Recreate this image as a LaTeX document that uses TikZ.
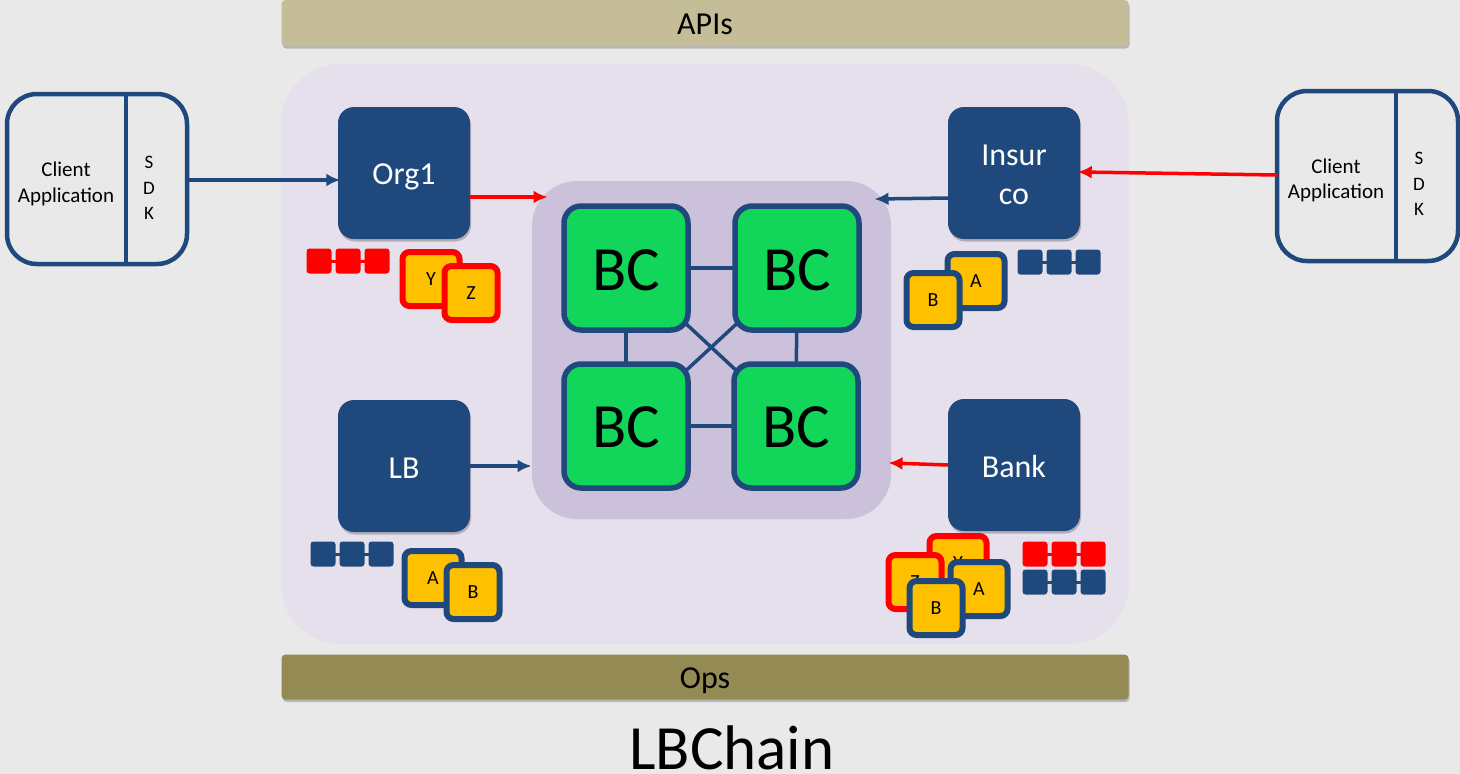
\documentclass[tikz,border=0pt]{standalone}
\usepackage{fontspec}
\setmainfont{Carlito}
\usetikzlibrary{arrows.meta,shadows,backgrounds}
\definecolor{bluedark}{HTML}{1F497D}
\definecolor{redbright}{HTML}{FF0000}
\definecolor{greenbc}{HTML}{12D65A}
\definecolor{goldcard}{HTML}{FFC000}
\definecolor{pagegray}{HTML}{E9E9EA}
\definecolor{lilacpanel}{HTML}{E5E0EC}
\definecolor{lilaccore}{HTML}{CCC1DA}
\definecolor{apisbar}{HTML}{C4BD97}
\definecolor{opsbar}{HTML}{948A54}
\tikzset{x=1pt,y=-1pt,
  softshadow/.style={drop shadow={shadow xshift=1pt,shadow yshift=-2.5pt,fill=black,opacity=.22}},
  org/.style={softshadow,fill=bluedark,text=white,rounded corners=16pt,minimum width=132pt,minimum height=132pt,font=\fontsize{32}{39}\selectfont,align=center,inner sep=0pt},
  orglabel/.style={text=white,font=\fontsize{32}{39}\selectfont,align=center,inner sep=0pt},
  bc/.style={draw=bluedark,fill=greenbc,line width=5.5pt,rounded corners=17pt,minimum width=124pt,minimum height=124pt,font=\fontsize{63}{63}\selectfont,inner sep=0pt},
  bluecard/.style={softshadow,draw=bluedark,fill=goldcard,line width=6pt,rounded corners=7pt,minimum width=53pt,minimum height=54pt,font=\fontsize{20}{20}\selectfont,inner sep=0pt},
  redcard/.style={bluecard,draw=redbright},
  widecard/.style={minimum width=57pt},
  bluechip/.style={fill=bluedark,rounded corners=3pt,minimum width=25pt,minimum height=25pt,inner sep=0pt},
  redchip/.style={bluechip,fill=redbright},
  barnode/.style={softshadow,rounded corners=4pt,minimum width=847pt,font=\fontsize{32}{34}\selectfont},
  clientbox/.style={draw=bluedark,line width=4.5pt,rounded corners=30pt,fill=none},
  clienttext/.style={font=\fontsize{21}{25.5}\selectfont,align=center},
  sdktext/.style={font=\fontsize{19}{25.5}\selectfont,align=center},
  bluelink/.style={bluedark,line width=3.5pt},
  bluearrow/.style={bluedark,line width=3.5pt,shorten >=-2.5pt,-{Latex[length=14pt,width=13pt]}},
  redarrow/.style={redbright,line width=3.5pt,shorten >=-2.5pt,-{Latex[length=14pt,width=13pt]}}}
\newcommand{\lowtext}[2]{\raisebox{-#1pt}[\height][\depth]{#2}}
\begin{document}
\begin{tikzpicture}
\useasboundingbox (0,0) rectangle (1460,774);

% Bars and title
\node[barnode,fill=apisbar,minimum height=46pt] (apis) at (705,23) {\lowtext{1}{APIs}};
\node[barnode,fill=opsbar,minimum height=45pt] (ops) at (705,677) {\lowtext{4}{Ops}};
\node[font=\fontsize{63}{63}\selectfont,inner sep=0pt] (title) at (732,748) {LBChain};

% Blockchain nodes
\node[bc] (bc1) at (626,268) {\lowtext{2}{BC}};
\node[bc] (bc2) at (797,268) {\lowtext{2}{BC}};
\node[bc] (bc3) at (626,426) {\lowtext{1}{BC}};
\node[bc] (bc4) at (796,426) {\lowtext{1}{BC}};

% Panels and links, behind the nodes
\begin{pgfonlayer}{background}
\fill[pagegray] (0,0) rectangle (1460,774);
\fill[lilacpanel,rounded corners=60pt] (281,64) rectangle (1129,644);
\fill[lilaccore,rounded corners=45pt] (532,181) rectangle (891,519);
\draw[bluelink] (bc1.center) -- (bc2.center);
\draw[bluelink] (bc3.center) -- (bc4.center);
\draw[bluelink] (bc1.center) -- (bc3.center);
\draw[bluelink] (bc2.center) -- (bc4.center);
\draw[bluelink] (bc1.center) -- (bc4.center);
\draw[bluelink] (bc2.center) -- (bc3.center);
\end{pgfonlayer}

% Organisations
\node[org] (org1) at (404,173) {\lowtext{4}{Org1}};
\node[org] (insur) at (1014,173) {};
\node[orglabel] (insurlabel) at (1014,175) {Insur\\co};
\node[org] (lb) at (404,466) {\lowtext{2}{LB}};
\node[org] (bank) at (1014,465) {\lowtext{2}{Bank}};

% Clients
\draw[clientbox] (7,94) rectangle (187,264);
\draw[bluedark,line width=4.5pt] (126,94) -- (126,264);
\node[clienttext] (client1) at (66,184) {Client\\Application};
\node[sdktext] (sdk1) at (149,188) {S\\D\\K};
\coordinate (out1) at (187,180);
\draw[clientbox] (1277,91) rectangle (1458,261);
\draw[bluedark,line width=4.5pt] (1396,91) -- (1396,261);
\node[clienttext] (client2) at (1336,180.5) {Client\\Application};
\node[sdktext] (sdk2) at (1419,184) {S\\D\\K};
\coordinate (out2) at (1277,175);

% Arrows
\coordinate (core1) at (545,197);
\coordinate (core2) at (877,199);
\coordinate (core3) at (529,466);
\coordinate (core4) at (891,463);
\draw[bluearrow] (out1) -- (org1.west |- out1);
\draw[redarrow] (out2) -- (insur.east |- 0,172);
\draw[redarrow] (org1.east |- core1) -- (core1);
\draw[bluearrow] (insur.west |- 0,198) -- (core2);
\draw[bluearrow] (lb.east |- core3) -- (core3);
\draw[redarrow] (bank.west |- 0,465) -- (core4);

% Chips and cards
\draw[redbright,line width=3pt] (319,261) -- (377,261);
\foreach \x in {319,348,377} \node[redchip] at (\x,261) {};
\node[redcard,widecard] (y1) at (431,279) {Y};
\node[redcard] (z1) at (471,293) {Z};
\draw[bluedark,line width=3pt] (1030,262) -- (1088,262);
\foreach \x in {1030,1059,1088} \node[bluechip] at (\x,262) {};
\node[bluecard,widecard] (a1) at (976,281) {A};
\node[bluecard] (b1) at (933,300) {B};
\draw[bluedark,line width=3pt] (323,554) -- (381,554);
\foreach \x in {323,352,381} \node[bluechip] at (\x,554) {};
\node[bluecard,widecard] (a2) at (433,578) {A};
\node[bluecard] (b2) at (473,592) {B};
\draw[redbright,line width=3pt] (1035,554) -- (1093,554);
\foreach \x in {1035,1064,1093} \node[redchip] at (\x,554) {};
\draw[bluedark,line width=3pt] (1035,582) -- (1093,582);
\foreach \x in {1035,1064,1093} \node[bluechip] at (\x,582) {};
\node[redcard,widecard] (y2) at (958,563) {Y};
\node[redcard] (z2) at (915,582) {Z};
\node[bluecard,widecard] (a3) at (979,589) {A};
\node[bluecard] (b3) at (936,608) {B};
\end{tikzpicture}
\end{document}
